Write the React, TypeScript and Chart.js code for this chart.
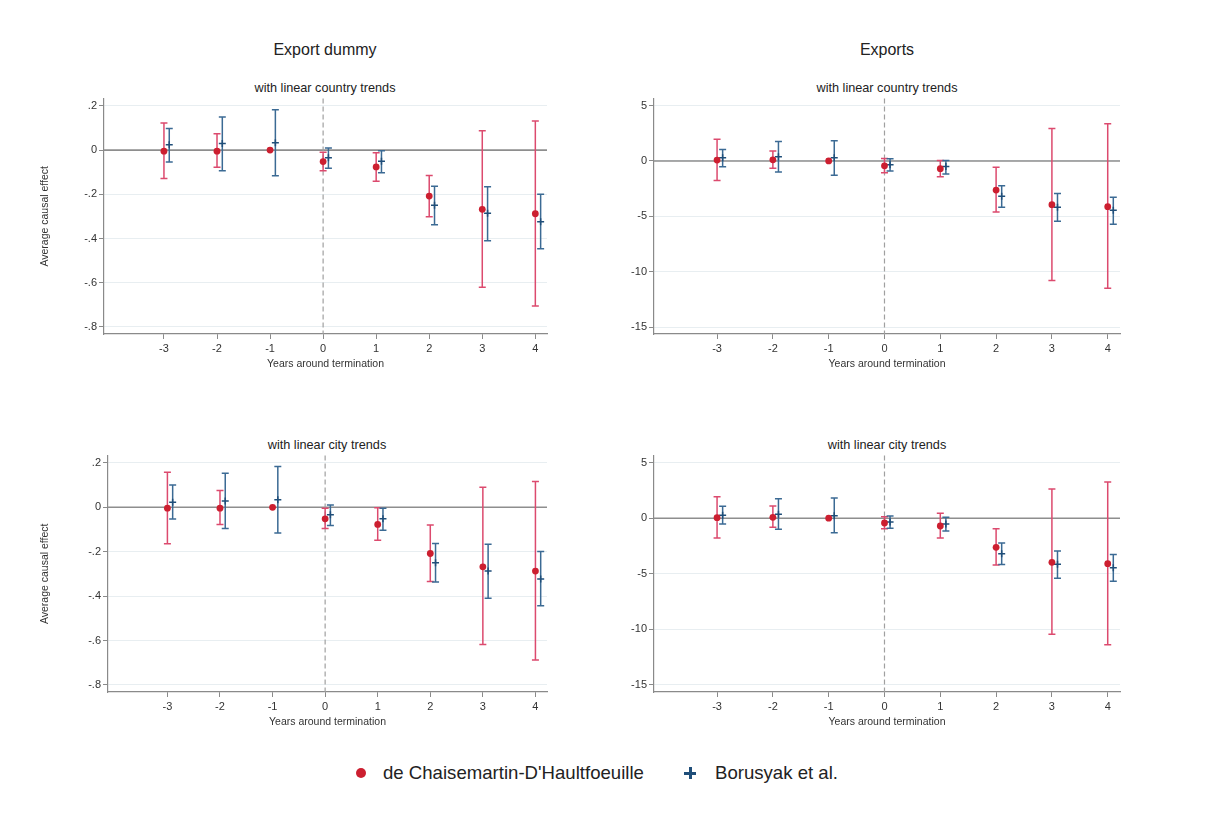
import React, { useEffect, useRef } from 'react';
import { Chart, registerables } from 'chart.js';
Chart.register(...registerables);

// ---------- data ----------
const years = [-3, -2, -1, 0, 1, 2, 3, 4];
const xTickLabels = ['-3', '-2', '-1', '0', '1', '2', '3', '4'];
const borOffset = 0.1;

const dummyTicks = [-0.8, -0.6, -0.4, -0.2, 0, 0.2];
const dummyTickLabels = ['-.8', '-.6', '-.4', '-.2', '0', '.2'];
const exportTicks = [-15, -10, -5, 0, 5];
const exportTickLabels = ['-15', '-10', '-5', '0', '5'];

// Export dummy, linear country trends
const dcCountryDummy = [-0.005, -0.005, 0, -0.052, -0.076, -0.208, -0.268, -0.288];
const dcCountryDummyLo = [-0.129, -0.078, null, -0.093, -0.141, -0.301, -0.62, -0.705];
const dcCountryDummyHi = [0.123, 0.074, null, -0.01, -0.012, -0.115, 0.087, 0.132];
const borCountryDummy = [0.024, 0.03, 0.033, -0.035, -0.051, -0.25, -0.286, -0.324];
const borCountryDummyLo = [-0.054, -0.093, -0.116, -0.082, -0.102, -0.338, -0.41, -0.446];
const borCountryDummyHi = [0.098, 0.15, 0.183, 0.01, -0.003, -0.163, -0.166, -0.2];

// Exports, linear country trends
const dcCountryExp = [0.08, 0.1, 0, -0.44, -0.7, -2.63, -3.95, -4.13];
const dcCountryExpLo = [-1.76, -0.65, null, -1.07, -1.43, -4.61, -10.8, -11.49];
const dcCountryExpHi = [1.97, 0.89, null, 0.23, 0.05, -0.56, 2.93, 3.35];
const borCountryExp = [0.29, 0.38, 0.29, -0.35, -0.5, -3.2, -4.19, -4.46];
const borCountryExpLo = [-0.53, -1.0, -1.3, -0.92, -1.19, -4.19, -5.45, -5.72];
const borCountryExpHi = [1.04, 1.76, 1.82, 0.2, 0.05, -2.24, -2.93, -3.29];

// Export dummy, linear city trends
const dcCityDummy = [-0.004, -0.004, 0, -0.052, -0.077, -0.208, -0.268, -0.287];
const dcCityDummyLo = [-0.164, -0.077, null, -0.095, -0.148, -0.334, -0.618, -0.688];
const dcCityDummyHi = [0.158, 0.076, null, -0.004, -0.002, -0.08, 0.09, 0.116];
const borCityDummy = [0.023, 0.029, 0.034, -0.034, -0.052, -0.25, -0.287, -0.323];
const borCityDummyLo = [-0.053, -0.095, -0.116, -0.082, -0.103, -0.337, -0.41, -0.443];
const borCityDummyHi = [0.1, 0.154, 0.184, 0.011, -0.004, -0.163, -0.166, -0.199];

// Exports, linear city trends
const dcCityExp = [0.05, 0.08, 0, -0.43, -0.7, -2.62, -3.97, -4.09];
const dcCityExpLo = [-1.78, -0.82, null, -0.94, -1.78, -4.2, -10.44, -11.39];
const dcCityExpHi = [1.94, 1.1, null, 0.14, 0.44, -0.94, 2.63, 3.26];
const borCityExp = [0.26, 0.35, 0.23, -0.34, -0.52, -3.19, -4.15, -4.45];
const borCityExpLo = [-0.52, -1.0, -1.3, -0.9, -1.15, -4.17, -5.41, -5.67];
const borCityExpHi = [1.07, 1.76, 1.82, 0.2, 0.08, -2.23, -2.95, -3.27];

// ---------- styles ----------
const FONT = "Arial, 'Liberation Sans', sans-serif";
const RED_DOT = '#cc1f30';
const RED_LINE = '#dc4a6e';
const BLUE = '#1f4e79';
const BLUE_LINE = '#3b6a94';

const errorBarPlugin = {
  id: 'errbars',
  beforeDatasetsDraw(chart: any) {
    const { ctx, chartArea, scales } = chart;
    const x = scales.x;
    const y = scales.y;
    ctx.save();
    const y0 = y.getPixelForValue(0);
    ctx.strokeStyle = '#8e8e8e';
    ctx.lineWidth = 1.6;
    ctx.beginPath();
    ctx.moveTo(chartArea.left, y0);
    ctx.lineTo(chartArea.right, y0);
    ctx.stroke();
    const x0 = x.getPixelForValue(0);
    ctx.setLineDash([5, 3]);
    ctx.strokeStyle = '#a0a0a0';
    ctx.lineWidth = 1.2;
    ctx.beginPath();
    ctx.moveTo(x0, chartArea.top);
    ctx.lineTo(x0, chartArea.bottom);
    ctx.stroke();
    ctx.setLineDash([]);
    chart.data.datasets.forEach((ds: any) => {
      const eb = ds.errorBars;
      if (!eb) return;
      ctx.strokeStyle = eb.color;
      ctx.lineWidth = 1.5;
      ds.data.forEach((pt: any, i: number) => {
        const lo = eb.lo[i];
        const hi = eb.hi[i];
        if (lo == null || hi == null) return;
        const px = x.getPixelForValue(pt.x);
        const pl = y.getPixelForValue(lo);
        const ph = y.getPixelForValue(hi);
        ctx.beginPath();
        ctx.moveTo(px, pl);
        ctx.lineTo(px, ph);
        ctx.moveTo(px - 3.5, pl);
        ctx.lineTo(px + 3.5, pl);
        ctx.moveTo(px - 3.5, ph);
        ctx.lineTo(px + 3.5, ph);
        ctx.stroke();
      });
    });
    ctx.restore();
  },
};

type PanelProps = {
  left: number;
  top: number;
  width: number;
  height: number;
  padding: { left: number; right: number; top: number; bottom: number };
  yWidth: number;
  showYTitle: boolean;
  yTicks: number[];
  yLabels: string[];
  yMin: number;
  yMax: number;
  dc: number[];
  dcLo: (number | null)[];
  dcHi: (number | null)[];
  bor: number[];
  borLo: (number | null)[];
  borHi: (number | null)[];
};

function Panel(p: PanelProps) {
  const ref = useRef<HTMLCanvasElement>(null);
  useEffect(() => {
    if (!ref.current) return;
    const chart = new Chart(ref.current, {
      type: 'scatter',
      data: {
        datasets: [
          {
            label: "de Chaisemartin-D'Haultfoeuille",
            data: years.map((yr, i) => ({ x: yr, y: p.dc[i] })),
            pointStyle: 'circle',
            pointRadius: 3.4,
            backgroundColor: RED_DOT,
            borderWidth: 0,
            errorBars: { lo: p.dcLo, hi: p.dcHi, color: RED_LINE },
          } as any,
          {
            label: 'Borusyak et al.',
            data: years.map((yr, i) => ({ x: yr + borOffset, y: p.bor[i] })),
            pointStyle: 'cross',
            pointRadius: 3.5,
            borderColor: BLUE,
            borderWidth: 1.5,
            errorBars: { lo: p.borLo, hi: p.borHi, color: BLUE_LINE },
          } as any,
        ],
      },
      options: {
        animation: false,
        responsive: false,
        devicePixelRatio: 1,
        layout: { padding: p.padding },
        plugins: { legend: { display: false }, tooltip: { enabled: false }, title: { display: false } },
        scales: {
          x: {
            type: 'linear',
            min: -4.13,
            max: 4.22,
            afterBuildTicks: (scale: any) => {
              scale.ticks = years.map((v) => ({ value: v }));
            },
            afterFit: (scale: any) => {
              scale.height = 46;
            },
            ticks: {
              autoSkip: false,
              maxRotation: 0,
              padding: 3,
              color: '#333',
              font: { family: FONT, size: 11 },
              callback: (_v: any, i: number) => xTickLabels[i],
            },
            grid: { drawOnChartArea: false, drawTicks: true, tickLength: 5, tickColor: '#8a8a8a' },
            border: { color: '#8a8a8a', width: 1.2 },
            title: {
              display: true,
              text: 'Years around termination',
              color: '#333',
              font: { family: FONT, size: 10.5 },
              padding: { top: 0, bottom: 10 },
            },
          },
          y: {
            type: 'linear',
            min: p.yMin,
            max: p.yMax,
            afterBuildTicks: (scale: any) => {
              scale.ticks = p.yTicks.map((v) => ({ value: v }));
            },
            afterFit: (scale: any) => {
              scale.width = p.yWidth;
            },
            ticks: {
              autoSkip: false,
              padding: 2,
              color: '#333',
              font: { family: FONT, size: 11 },
              callback: (_v: any, i: number) => p.yLabels[i],
            },
            grid: { color: '#e8eef1', lineWidth: 1, drawTicks: true, tickLength: 5, tickColor: '#8a8a8a' },
            border: { color: '#8a8a8a', width: 1.2 },
            title: {
              display: p.showYTitle,
              text: 'Average causal effect',
              color: '#333',
              font: { family: FONT, size: 10.5 },
              padding: { top: 4, bottom: 4 },
            },
          },
        },
      } as any,
      plugins: [errorBarPlugin],
    });
    return () => chart.destroy();
  }, []);
  return (
    <canvas
      ref={ref}
      width={p.width}
      height={p.height}
      style={{ position: 'absolute', left: p.left, top: p.top, width: p.width, height: p.height }}
    />
  );
}

function Label(props: { x: number; y: number; size: number; text: string }) {
  return (
    <div
      style={{
        position: 'absolute',
        left: props.x,
        top: props.y,
        transform: 'translate(-50%, -50%)',
        fontFamily: FONT,
        fontSize: props.size,
        color: '#222',
        whiteSpace: 'nowrap',
      }}
    >
      {props.text}
    </div>
  );
}

export default function App() {
  const dummyMin = -0.832;
  const dummyMax = 0.233;
  const expMin = -15.63;
  const expMax = 5.63;
  return (
    <div style={{ position: 'absolute', left: 0, top: 0, width: 1222, height: 814, background: '#fff', overflow: 'hidden' }}>
      <Label x={325} y={50} size={16} text="Export dummy" />
      <Label x={887} y={50} size={16} text="Exports" />
      <Label x={325} y={88} size={12.7} text="with linear country trends" />
      <Label x={887} y={88} size={12.7} text="with linear country trends" />
      <Label x={327} y={445} size={12.7} text="with linear city trends" />
      <Label x={887} y={445} size={12.7} text="with linear city trends" />

      <Panel
        left={30} top={90} width={530} height={290}
        padding={{ left: 5, right: 13, top: 8, bottom: 0 }}
        yWidth={69} showYTitle={true}
        yTicks={dummyTicks} yLabels={dummyTickLabels} yMin={dummyMin} yMax={dummyMax}
        dc={dcCountryDummy} dcLo={dcCountryDummyLo} dcHi={dcCountryDummyHi}
        bor={borCountryDummy} borLo={borCountryDummyLo} borHi={borCountryDummyHi}
      />
      <Panel
        left={610} top={90} width={520} height={290}
        padding={{ left: 0, right: 10, top: 8, bottom: 0 }}
        yWidth={44} showYTitle={false}
        yTicks={exportTicks} yLabels={exportTickLabels} yMin={expMin} yMax={expMax}
        dc={dcCountryExp} dcLo={dcCountryExpLo} dcHi={dcCountryExpHi}
        bor={borCountryExp} borLo={borCountryExpLo} borHi={borCountryExpHi}
      />
      <Panel
        left={30} top={447} width={530} height={291}
        padding={{ left: 5, right: 13, top: 8, bottom: 0 }}
        yWidth={73} showYTitle={true}
        yTicks={dummyTicks} yLabels={dummyTickLabels} yMin={dummyMin} yMax={dummyMax}
        dc={dcCityDummy} dcLo={dcCityDummyLo} dcHi={dcCityDummyHi}
        bor={borCityDummy} borLo={borCityDummyLo} borHi={borCityDummyHi}
      />
      <Panel
        left={610} top={447} width={520} height={291}
        padding={{ left: 0, right: 10, top: 8, bottom: 0 }}
        yWidth={44} showYTitle={false}
        yTicks={exportTicks} yLabels={exportTickLabels} yMin={expMin} yMax={expMax}
        dc={dcCityExp} dcLo={dcCityExpLo} dcHi={dcCityExpHi}
        bor={borCityExp} borLo={borCityExpLo} borHi={borCityExpHi}
      />

      {/* legend */}
      <div style={{ position: 'absolute', left: 356, top: 768, width: 10, height: 10, borderRadius: '50%', background: RED_DOT }} />
      <div style={{ position: 'absolute', left: 383, top: 773, transform: 'translateY(-50%)', fontFamily: FONT, fontSize: 18.6, color: '#222', whiteSpace: 'nowrap' }}>
        de Chaisemartin-D'Haultfoeuille
      </div>
      <div style={{ position: 'absolute', left: 684, top: 771.5, width: 12, height: 3, background: BLUE }} />
      <div style={{ position: 'absolute', left: 688.5, top: 767, width: 3, height: 12, background: BLUE }} />
      <div style={{ position: 'absolute', left: 715, top: 773, transform: 'translateY(-50%)', fontFamily: FONT, fontSize: 18.6, color: '#222', whiteSpace: 'nowrap' }}>
        Borusyak et al.
      </div>
    </div>
  );
}
